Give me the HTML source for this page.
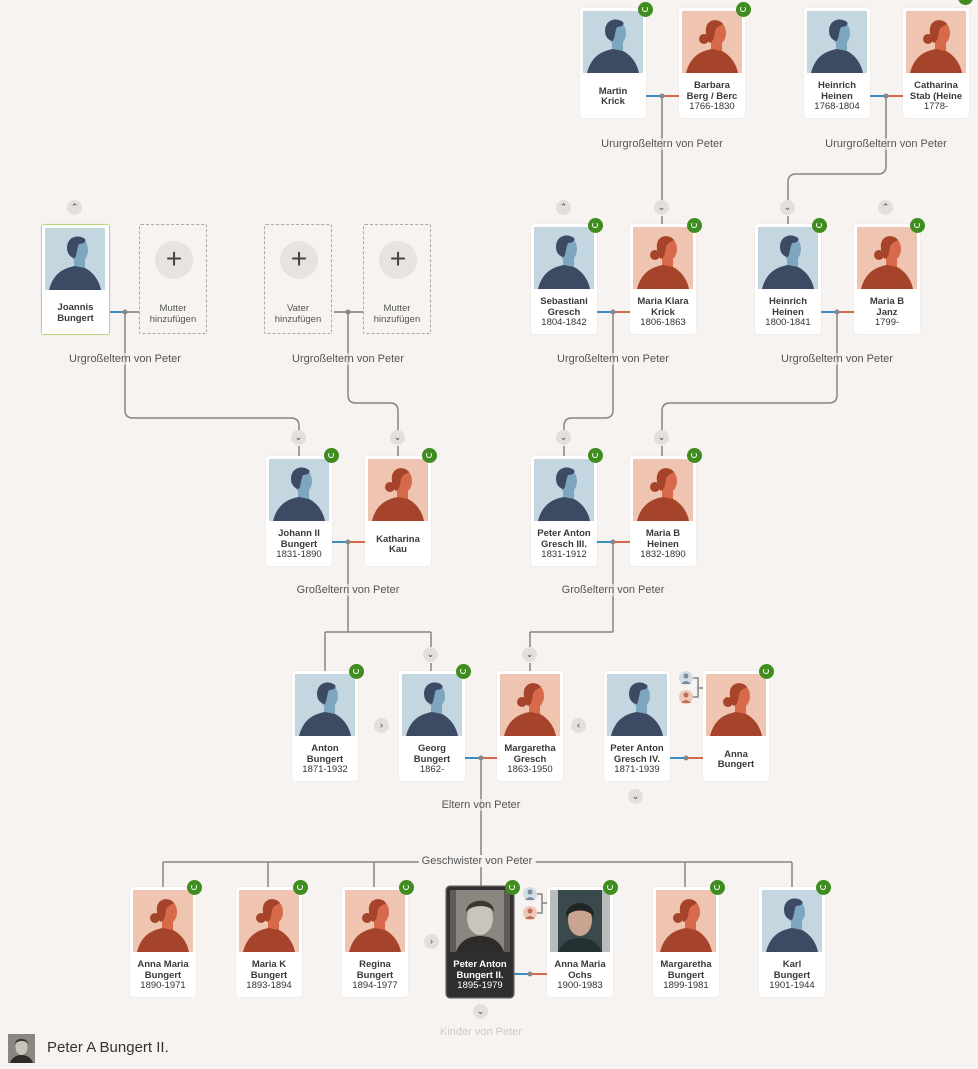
<!DOCTYPE html>
<html><head><meta charset="utf-8">
<style>
body{margin:0;width:978px;height:1069px;background:#f6f3f0;position:relative;overflow:hidden;font-family:"Liberation Sans",sans-serif}
.c{position:absolute;width:66px;height:110px;background:#fff;border-radius:3px;box-shadow:0 0 1px rgba(0,0,0,.15)}
.c .im{position:absolute;left:3px;top:3px;width:60px;height:62px}
.c .t{position:absolute;left:0;right:0;top:68px;bottom:0;display:flex;flex-direction:column;justify-content:center;align-items:center;text-align:center;font-size:9.5px;line-height:10.5px;color:#333}
.c .t b{color:#3a3a3a}
.c.sel{border:1.5px solid #b9d87a;width:67px;height:109px;left:41px}
.c.dk{background:#2f2f2f;box-shadow:0 0 0 1.5px #555}
.c.dk .t{color:#fff}
.c.dk .t b{color:#fff}
.ph{position:absolute;width:68px;height:110px;border:1.5px dashed #aaa;border-radius:2px;box-sizing:border-box}
.ph .p{position:absolute;left:15px;top:16px;width:38px;height:38px;border-radius:50%;background:#e6e3e0;font-size:28px;line-height:36px;text-align:center;color:#444}
.ph .t{position:absolute;left:0;right:0;top:78px;text-align:center;font-size:9.5px;line-height:11px;color:#555}
.bd{position:absolute;width:15px;height:15px;border-radius:50%;background:#3f8c1f;margin:-8px 0 0 -8px}
.bd:after{content:"";position:absolute;left:4px;top:4px;width:4px;height:4px;border:1.5px solid #fff;border-radius:50%;border-top-color:transparent}
.ch{position:absolute;width:15px;height:15px;border-radius:50%;background:#e2dfdc;margin:-8px 0 0 -8px;font-size:9px;line-height:15px;text-align:center;color:#444}
.lb{position:absolute;font-size:11px;color:#555;transform:translateX(-50%);white-space:nowrap;background:rgba(246,243,240,.6)}
</style></head><body>
<svg width="0" height="0" style="position:absolute">
<defs>
<symbol id="m" viewBox="0 0 60 62"><rect width="60" height="62" fill="#c4d7e1"/><rect x="29" y="28" width="11" height="14" fill="#7fa6bf"/><ellipse cx="34" cy="22" rx="9" ry="12" fill="#7fa6bf"/><path d="M22 20 C22 8 34 6 40 11 C42 14 38 16 34 16 C32 20 32 26 30 30 C26 30 22 26 22 20Z" fill="#3d4a64"/><path d="M4 62 C8 46 18 40 30 38 L40 40 C48 44 54 52 56 62Z" fill="#3d4a64"/></symbol>
<symbol id="f" viewBox="0 0 60 62"><rect width="60" height="62" fill="#efc5b1"/><rect x="29" y="28" width="11" height="14" fill="#d66a4b"/><ellipse cx="35" cy="22" rx="9" ry="12" fill="#d66a4b"/><path d="M24 22 C22 8 36 6 41 13 C38 15 34 16 33 20 C32 26 32 30 28 32 C25 30 24 26 24 22Z" fill="#a6442b"/><circle cx="22" cy="28" r="5" fill="#a6442b"/><path d="M4 62 C8 46 18 40 30 38 L40 40 C48 44 54 52 56 62Z" fill="#a6442b"/></symbol>
</defs></svg>

<svg style="position:absolute;left:0;top:0" width="978" height="1069">
<g fill="none" stroke="#858585" stroke-width="1.5">
<path d="M662 96 V200"/>
<path d="M886 96 V166 Q886 174 878 174 H796 Q788 174 788 182 V200"/>
<path d="M125 312 V410 Q125 418 133 418 H291 Q299 418 299 426 V430"/>
<path d="M348 312 V395 Q348 403 356 403 H390 Q398 403 398 411 V430"/>
<path d="M613 312 V410 Q613 418 605 418 H572 Q564 418 564 426 V430"/>
<path d="M837 312 V395 Q837 403 829 403 H670 Q662 403 662 411 V430"/>
<path d="M299 446 V456 M398 446 V456 M564 446 V456 M662 446 V456 M662 216 V224 M788 216 V224"/>
<path d="M348 542 V632 M325 632 H431 M325 632 V671 M431 632 V647 M431 663 V671"/>
<path d="M613 542 V632 M530 632 H613 M530 632 V647 M530 663 V671"/>
<path d="M481 758 V887"/>
<path d="M163 862 H792 M163 862 V887 M268 862 V887 M374 862 V887 M685 862 V887 M792 862 V887"/>
<path d="M693 678 H698 V697 H693 M698 688 H703"/>
<path d="M537 894 H542 V913 H537 M542 903 H547"/>
</g>
<g stroke-width="2">
<path d="M646 96 H660" stroke="#3a8fc0"/><path d="M664 96 H679" stroke="#d46a4b"/>
<path d="M870 96 H884" stroke="#3a8fc0"/><path d="M888 96 H903" stroke="#d46a4b"/>
<path d="M110 312 H123" stroke="#3a8fc0"/><path d="M127 312 H139" stroke="#999"/>
<path d="M334 312 H363" stroke="#999"/>
<path d="M597 312 H611" stroke="#3a8fc0"/><path d="M615 312 H630" stroke="#d46a4b"/>
<path d="M821 312 H835" stroke="#3a8fc0"/><path d="M839 312 H854" stroke="#d46a4b"/>
<path d="M332 542 H346" stroke="#3a8fc0"/><path d="M350 542 H365" stroke="#d46a4b"/>
<path d="M597 542 H611" stroke="#3a8fc0"/><path d="M615 542 H630" stroke="#d46a4b"/>
<path d="M465 758 H479" stroke="#3a8fc0"/><path d="M483 758 H497" stroke="#d46a4b"/>
<path d="M670 758 H684" stroke="#3a8fc0"/><path d="M688 758 H703" stroke="#d46a4b"/>
<path d="M513 974 H528" stroke="#3a8fc0"/><path d="M532 974 H547" stroke="#d46a4b"/>
</g>
<g fill="#888">
<circle cx="662" cy="96" r="2.5"/><circle cx="886" cy="96" r="2.5"/><circle cx="125" cy="312" r="2.5"/><circle cx="348" cy="312" r="2.5"/><circle cx="613" cy="312" r="2.5"/><circle cx="837" cy="312" r="2.5"/><circle cx="348" cy="542" r="2.5"/><circle cx="613" cy="542" r="2.5"/><circle cx="481" cy="758" r="2.5"/><circle cx="686" cy="758" r="2.5"/><circle cx="530" cy="974" r="2.5"/>
</g>
<g>
<circle cx="686" cy="678" r="7" fill="#d2dde4"/><circle cx="686" cy="676" r="2.5" fill="#7a8aa0"/><path d="M681 684 Q686 678 691 684" fill="#7a8aa0"/>
<circle cx="686" cy="697" r="7" fill="#f0c8b8"/><circle cx="686" cy="695" r="2.5" fill="#c0705a"/><path d="M681 703 Q686 697 691 703" fill="#c0705a"/>
<circle cx="530" cy="894" r="7" fill="#d2dde4"/><circle cx="530" cy="892" r="2.5" fill="#7a8aa0"/><path d="M525 900 Q530 894 535 900" fill="#7a8aa0"/>
<circle cx="530" cy="913" r="7" fill="#f0c8b8"/><circle cx="530" cy="911" r="2.5" fill="#c0705a"/><path d="M525 919 Q530 913 535 919" fill="#c0705a"/>
</g>
</svg>

<div class="lb" style="left:662px;top:138px">Ururgroßeltern von Peter</div>
<div class="lb" style="left:886px;top:138px">Ururgroßeltern von Peter</div>
<div class="lb" style="left:125px;top:353px">Urgroßeltern von Peter</div>
<div class="lb" style="left:348px;top:353px">Urgroßeltern von Peter</div>
<div class="lb" style="left:613px;top:353px">Urgroßeltern von Peter</div>
<div class="lb" style="left:837px;top:353px">Urgroßeltern von Peter</div>
<div class="lb" style="left:348px;top:584px">Großeltern von Peter</div>
<div class="lb" style="left:613px;top:584px">Großeltern von Peter</div>
<div class="lb" style="left:481px;top:799px">Eltern von Peter</div>
<div class="lb" style="left:477px;top:855px;background:#f6f3f0;padding:0 3px">Geschwister von Peter</div>
<div class="lb" style="left:481px;top:1026px;color:#ccc;background:none">Kinder von Peter</div>

<div class="c" style="left:580px;top:8px"><svg class="im"><use href="#m"/></svg><div class="t"><b>Martin<br>Krick</b></div></div>
<div class="c" style="left:679px;top:8px"><svg class="im"><use href="#f"/></svg><div class="t"><b>Barbara<br>Berg / Berc</b>1766-1830</div></div>
<div class="c" style="left:804px;top:8px"><svg class="im"><use href="#m"/></svg><div class="t"><b>Heinrich<br>Heinen</b>1768-1804</div></div>
<div class="c" style="left:903px;top:8px"><svg class="im"><use href="#f"/></svg><div class="t"><b>Catharina<br>Stab (Heine</b>1778-</div></div>

<div class="c sel" style="top:224px"><svg class="im"><use href="#m"/></svg><div class="t"><b>Joannis<br>Bungert</b></div></div>
<div class="ph" style="left:139px;top:224px"><div class="p">+</div><div class="t">Mutter<br>hinzufügen</div></div>
<div class="ph" style="left:264px;top:224px"><div class="p">+</div><div class="t">Vater<br>hinzufügen</div></div>
<div class="ph" style="left:363px;top:224px"><div class="p">+</div><div class="t">Mutter<br>hinzufügen</div></div>
<div class="c" style="left:531px;top:224px"><svg class="im"><use href="#m"/></svg><div class="t"><b>Sebastiani<br>Gresch</b>1804-1842</div></div>
<div class="c" style="left:630px;top:224px"><svg class="im"><use href="#f"/></svg><div class="t"><b>Maria Klara<br>Krick</b>1806-1863</div></div>
<div class="c" style="left:755px;top:224px"><svg class="im"><use href="#m"/></svg><div class="t"><b>Heinrich<br>Heinen</b>1800-1841</div></div>
<div class="c" style="left:854px;top:224px"><svg class="im"><use href="#f"/></svg><div class="t"><b>Maria B<br>Janz</b>1799-</div></div>

<div class="c" style="left:266px;top:456px"><svg class="im"><use href="#m"/></svg><div class="t"><b>Johann II<br>Bungert</b>1831-1890</div></div>
<div class="c" style="left:365px;top:456px"><svg class="im"><use href="#f"/></svg><div class="t"><b>Katharina<br>Kau</b></div></div>
<div class="c" style="left:531px;top:456px"><svg class="im"><use href="#m"/></svg><div class="t"><b>Peter Anton<br>Gresch III.</b>1831-1912</div></div>
<div class="c" style="left:630px;top:456px"><svg class="im"><use href="#f"/></svg><div class="t"><b>Maria B<br>Heinen</b>1832-1890</div></div>

<div class="c" style="left:292px;top:671px"><svg class="im"><use href="#m"/></svg><div class="t"><b>Anton<br>Bungert</b>1871-1932</div></div>
<div class="c" style="left:399px;top:671px"><svg class="im"><use href="#m"/></svg><div class="t"><b>Georg<br>Bungert</b>1862-</div></div>
<div class="c" style="left:497px;top:671px"><svg class="im"><use href="#f"/></svg><div class="t"><b>Margaretha<br>Gresch</b>1863-1950</div></div>
<div class="c" style="left:604px;top:671px"><svg class="im"><use href="#m"/></svg><div class="t"><b>Peter Anton<br>Gresch IV.</b>1871-1939</div></div>
<div class="c" style="left:703px;top:671px"><svg class="im"><use href="#f"/></svg><div class="t"><b>Anna<br>Bungert</b></div></div>

<div class="c" style="left:130px;top:887px"><svg class="im"><use href="#f"/></svg><div class="t"><b>Anna Maria<br>Bungert</b>1890-1971</div></div>
<div class="c" style="left:236px;top:887px"><svg class="im"><use href="#f"/></svg><div class="t"><b>Maria K<br>Bungert</b>1893-1894</div></div>
<div class="c" style="left:342px;top:887px"><svg class="im"><use href="#f"/></svg><div class="t"><b>Regina<br>Bungert</b>1894-1977</div></div>
<div class="c dk" style="left:447px;top:887px"><svg class="im" viewBox="0 0 60 62"><rect width="60" height="62" fill="#5e5b57"/><rect x="6" width="48" height="62" fill="#8a8680"/><ellipse cx="30" cy="28" rx="13" ry="17" fill="#c9c4bc"/><path d="M16 22 C16 8 44 6 44 22 C40 14 22 14 16 22Z" fill="#3a3835"/><path d="M6 62 C10 50 20 46 30 46 C40 46 50 50 54 62Z" fill="#2e2c2a"/></svg><div class="t"><b>Peter Anton<br>Bungert II.</b>1895-1979</div></div>
<div class="c" style="left:547px;top:887px"><svg class="im" viewBox="0 0 60 62"><rect width="60" height="62" fill="#b8bcbd"/><rect x="8" width="44" height="62" fill="#3a4a4c"/><ellipse cx="30" cy="30" rx="12" ry="16" fill="#c9a591"/><path d="M16 28 C14 8 46 8 44 28 C40 18 20 18 16 28Z" fill="#1f2424"/><path d="M8 62 C12 52 20 48 30 48 C40 48 48 52 52 62Z" fill="#253033"/></svg><div class="t"><b>Anna Maria<br>Ochs</b>1900-1983</div></div>
<div class="c" style="left:653px;top:887px"><svg class="im"><use href="#f"/></svg><div class="t"><b>Margaretha<br>Bungert</b>1899-1981</div></div>
<div class="c" style="left:759px;top:887px"><svg class="im"><use href="#m"/></svg><div class="t"><b>Karl<br>Bungert</b>1901-1944</div></div>

<div class="bd" style="left:646px;top:10px"></div>
<div class="bd" style="left:744px;top:10px"></div>
<div class="bd" style="left:966px;top:-2px"></div>
<div class="bd" style="left:596px;top:226px"></div>
<div class="bd" style="left:695px;top:226px"></div>
<div class="bd" style="left:820px;top:226px"></div>
<div class="bd" style="left:918px;top:226px"></div>
<div class="bd" style="left:332px;top:456px"></div>
<div class="bd" style="left:430px;top:456px"></div>
<div class="bd" style="left:596px;top:456px"></div>
<div class="bd" style="left:695px;top:456px"></div>
<div class="bd" style="left:357px;top:672px"></div>
<div class="bd" style="left:464px;top:672px"></div>
<div class="bd" style="left:767px;top:672px"></div>
<div class="bd" style="left:195px;top:888px"></div>
<div class="bd" style="left:301px;top:888px"></div>
<div class="bd" style="left:407px;top:888px"></div>
<div class="bd" style="left:513px;top:888px"></div>
<div class="bd" style="left:611px;top:888px"></div>
<div class="bd" style="left:718px;top:888px"></div>
<div class="bd" style="left:824px;top:888px"></div>

<div class="ch" style="left:75px;top:208px">&#8963;</div>
<div class="ch" style="left:564px;top:208px">&#8963;</div>
<div class="ch" style="left:662px;top:208px">&#8964;</div>
<div class="ch" style="left:788px;top:208px">&#8964;</div>
<div class="ch" style="left:886px;top:208px">&#8963;</div>
<div class="ch" style="left:299px;top:438px">&#8964;</div>
<div class="ch" style="left:398px;top:438px">&#8964;</div>
<div class="ch" style="left:564px;top:438px">&#8964;</div>
<div class="ch" style="left:662px;top:438px">&#8964;</div>
<div class="ch" style="left:431px;top:655px">&#8964;</div>
<div class="ch" style="left:530px;top:655px">&#8964;</div>
<div class="ch" style="left:382px;top:726px">&#8250;</div>
<div class="ch" style="left:579px;top:726px">&#8249;</div>
<div class="ch" style="left:636px;top:797px">&#8964;</div>
<div class="ch" style="left:432px;top:942px">&#8250;</div>
<div class="ch" style="left:481px;top:1012px">&#8964;</div>

<svg style="position:absolute;left:8px;top:1034px" width="27" height="29" viewBox="0 0 27 29"><rect width="27" height="29" fill="#8a8680"/><ellipse cx="13.5" cy="13" rx="6" ry="8" fill="#c9c4bc"/><path d="M7 10 C7 3 20 3 20 10 C18 6 10 6 7 10Z" fill="#3a3835"/><path d="M2 29 C4 23 9 21 13.5 21 C18 21 23 23 25 29Z" fill="#2e2c2a"/></svg>
<div style="position:absolute;left:47px;top:1039px;font-size:15px;color:#333">Peter A Bungert II.</div>
</body></html>
